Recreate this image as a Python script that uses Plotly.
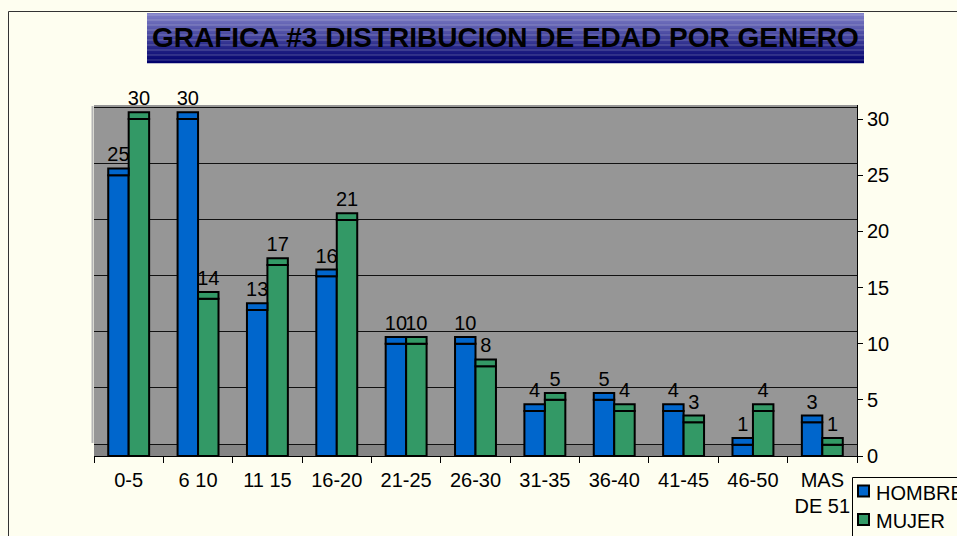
import plotly.graph_objects as go

categories = ["0-5", "6 10", "11 15", "16-20", "21-25", "26-30", "31-35",
              "36-40", "41-45", "46-50", "MAS<br>DE 51"]
hombre = [25, 30, 13, 16, 10, 10, 4, 5, 4, 1, 3]
mujer = [30, 14, 17, 21, 10, 8, 5, 4, 3, 4, 1]
series_names = ["HOMBRE", "MUJER"]
y_ticks = [0, 5, 10, 15, 20, 25, 30]

W, H = 957, 536
L, R, T, B = 94, 857, 105, 456
PXU = (456 - 119) / 30.0           # pixels per unit
YTOP = (B - T) / PXU
D = 12 / PXU                        # 3D depth offset of the back wall

BG = "#FEFEF0"
WALL = "#969696"
FLOOR = "#858585"
BLUE = "#0066CC"
GREEN = "#339966"
CAP = 0.6
FONT = "Liberation Sans, Arial"


def px_x(x):
    return (x - L) / (R - L)


def px_y(y):
    return (B - y) / (B - T)


fig = go.Figure()

series = [(series_names[0], hombre, BLUE, "h"), (series_names[1], mujer, GREEN, "m")]
for name, vals, col, grp in series:
    fig.add_trace(go.Bar(
        x=categories, y=vals, name=name, offsetgroup=grp,
        marker=dict(color=col, line=dict(color="black", width=2)),
        hoverinfo="skip", showlegend=False,
    ))
for name, vals, col, grp in series:
    fig.add_trace(go.Bar(
        x=categories, y=[CAP] * len(vals), base=vals, name=name, offsetgroup=grp,
        marker=dict(color=col, line=dict(color="black", width=2)),
        text=[str(v) for v in vals], textposition="outside",
        textfont=dict(size=20, color="black", family=FONT),
        constraintext="none", cliponaxis=False, showlegend=False,
        hoverinfo="skip",
    ))

shapes = []
annotations = []
# floor of the 3D box
shapes.append(dict(type="rect", xref="paper", yref="y2", x0=0, x1=1, y0=-D, y1=0,
                   fillcolor=FLOOR, line=dict(width=0), layer="below"))
# wall edge
shapes.append(dict(type="line", xref="paper", yref="paper", x0=px_x(92.5), x1=px_x(92.5),
                   y0=px_y(443), y1=px_y(106), line=dict(color="#B4B4B4", width=2), layer="below"))
# outer chart border
shapes.append(dict(type="line", xref="paper", yref="paper", x0=px_x(8.5), x1=px_x(8.5),
                   y0=px_y(11.5), y1=px_y(540), line=dict(color="#333333", width=1)))
shapes.append(dict(type="line", xref="paper", yref="paper", x0=px_x(8.5), x1=px_x(960),
                   y0=px_y(11.5), y1=px_y(11.5), line=dict(color="#333333", width=1)))
# title gradient box
N = 40
top_c = (128, 128, 200)
bot_c = (0, 0, 108)
y_a, y_b = 13, 63
for i in range(N):
    t = i / (N - 1)
    c = tuple(int(round(top_c[k] + (bot_c[k] - top_c[k]) * t)) for k in range(3))
    ya = y_a + (y_b - y_a) * i / N
    yb = y_a + (y_b - y_a) * (i + 1) / N
    shapes.append(dict(type="rect", xref="paper", yref="paper",
                       x0=px_x(147), x1=px_x(864), y0=px_y(yb + 0.3), y1=px_y(ya),
                       fillcolor="rgb(%d,%d,%d)" % c, line=dict(width=0)))
annotations.append(dict(text="<b>GRAFICA #3 DISTRIBUCION DE EDAD POR GENERO</b>",
                        xref="paper", yref="paper", x=px_x(505), y=px_y(38),
                        xanchor="center", yanchor="middle", showarrow=False,
                        font=dict(family=FONT, size=28, color="black")))

# legend (box runs off the right/bottom edge as in the reference)
shapes.append(dict(type="rect", xref="paper", yref="paper",
                   x0=px_x(852.5), x1=px_x(975), y0=px_y(560), y1=px_y(477.5),
                   fillcolor=BG, line=dict(color="black", width=1)))
for k, (name, vals, col, grp) in enumerate(series):
    cy = 491 + 28.5 * k
    shapes.append(dict(type="rect", xref="paper", yref="paper",
                       x0=px_x(858), x1=px_x(869), y0=px_y(cy + 5.5), y1=px_y(cy - 5.5),
                       fillcolor=col, line=dict(color="black", width=2)))
    annotations.append(dict(text=name, xref="paper", yref="paper",
                            x=px_x(874), y=px_y(cy + 1.5), xanchor="left", yanchor="middle",
                            showarrow=False, font=dict(family=FONT, size=20, color="black")))

fig.update_layout(
    width=W, height=H,
    margin=dict(l=L, r=W - R, t=T, b=H - B, autoexpand=False),
    paper_bgcolor=BG, plot_bgcolor=WALL,
    barmode="group", bargap=0.41, bargroupgap=0.0,
    font=dict(family=FONT, size=20, color="black"),
    shapes=shapes, annotations=annotations, showlegend=False,
    xaxis=dict(type="category", showline=True, linecolor="black", linewidth=1,
               ticks="outside", tickson="boundaries", ticklen=6, tickcolor="black",
               ticklabelstandoff=6,
               showgrid=False, tickfont=dict(size=20, color="black")),
    yaxis=dict(side="right", range=[0, YTOP], tickvals=y_ticks, showgrid=False,
               zeroline=False, showline=True, linecolor="black", linewidth=1,
               ticks="outside", ticklen=5, tickcolor="black",
               tickfont=dict(size=20, color="black")),
    yaxis2=dict(overlaying="y", range=[-D, YTOP - D], tickvals=y_ticks,
                showgrid=True, gridcolor="#111111", gridwidth=1,
                zeroline=False, showticklabels=False, ticks="", showline=False),
)

fig.write_html(
    "out.html",
    config={"displayModeBar": False},
    post_script="document.body.style.margin='0px';"
                "document.body.style.background='#FEFEF0';"
                "document.body.style.overflow='hidden';",
)
